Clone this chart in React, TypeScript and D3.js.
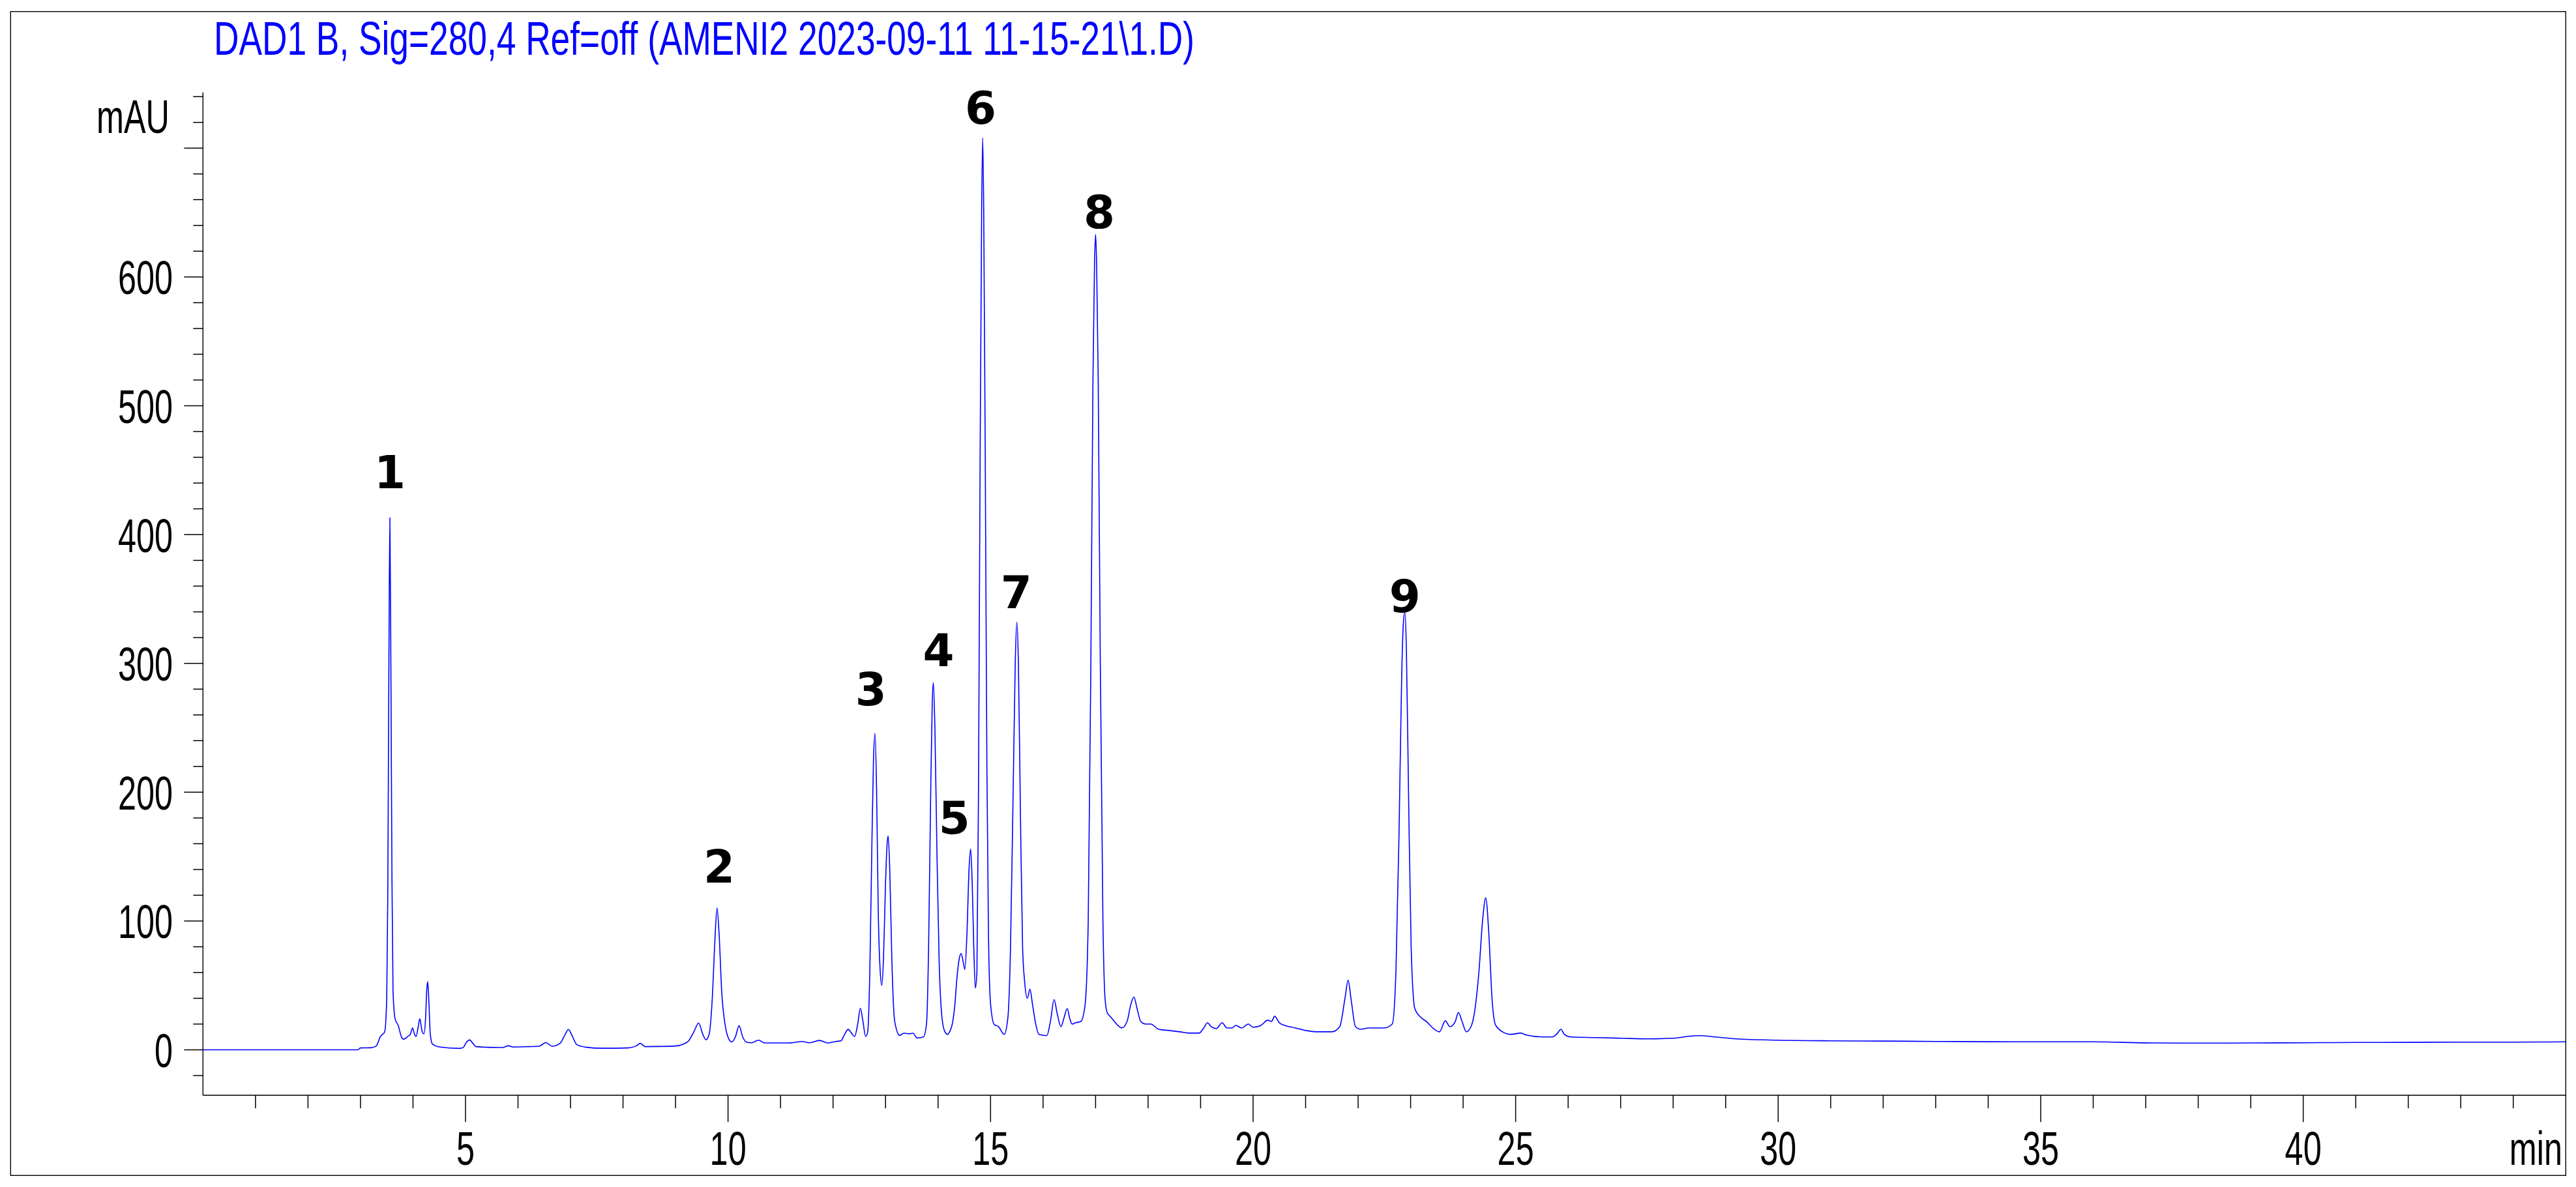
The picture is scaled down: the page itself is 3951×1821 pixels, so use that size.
import React from "react";
import * as d3 from "d3";

const chartTitle = "DAD1 B, Sig=280,4 Ref=off (AMENI2 2023-09-11 11-15-21\\1.D)";
const yUnit = "mAU";
const xUnit = "min";

const xDomain: [number, number] = [0, 45];
const yDomain: [number, number] = [-35.3, 743.3];
const yMajorTicks = [0, 100, 200, 300, 400, 500, 600, 700];
const yLabelTicks = [0, 100, 200, 300, 400, 500, 600];
const xLabelTicks = [5, 10, 15, 20, 25, 30, 35, 40];

// [retention time (min), absorbance (mAU)]
const trace: [number, number][] = [
  [0, 0], [2.95, 0], [3.0, 1.5], [3.2, 1.6], [3.3, 3], [3.38, 10.4], [3.46, 13.8],
  [3.5, 40], [3.52, 120], [3.54, 290], [3.56, 413], [3.58, 290], [3.6, 130], [3.62, 45],
  [3.66, 24], [3.72, 18.8], [3.78, 10], [3.82, 8.3], [3.86, 9], [3.9, 10.4], [3.95, 12],
  [3.99, 17], [4.03, 12], [4.06, 10.4], [4.1, 18], [4.13, 24.2], [4.17, 15], [4.21, 12.4],
  [4.24, 25], [4.26, 45], [4.28, 52.9], [4.3, 40], [4.33, 12], [4.37, 4.5], [4.49, 2.3],
  [4.89, 1.1], [4.96, 2], [5.02, 6], [5.08, 7.7], [5.14, 5], [5.2, 2.5], [5.4, 2],
  [5.7, 1.8], [5.82, 3.1], [5.9, 2.2], [6.2, 2.5], [6.4, 2.8], [6.53, 5.6], [6.65, 2.8],
  [6.8, 5], [6.9, 12], [6.96, 15.8], [7.03, 11], [7.12, 4], [7.3, 2], [7.6, 1.2],
  [8.1, 1.5], [8.25, 3], [8.33, 5], [8.42, 2.5], [8.7, 2.6], [9.0, 3], [9.15, 4.5],
  [9.25, 7], [9.35, 14], [9.44, 20.8], [9.52, 12], [9.58, 7.8], [9.64, 12], [9.7, 40],
  [9.75, 85], [9.79, 110], [9.83, 90], [9.88, 45], [9.95, 18], [10.02, 8], [10.07, 6.1],
  [10.14, 10], [10.21, 18.7], [10.28, 10], [10.35, 6], [10.45, 5.5], [10.58, 7.5],
  [10.7, 5.3], [11.0, 5.3], [11.2, 5.4], [11.41, 6.5], [11.55, 5.5], [11.74, 7.3],
  [11.9, 5.3], [12.05, 6.5], [12.15, 7], [12.22, 12], [12.29, 15.9], [12.35, 13],
  [12.41, 10.4], [12.47, 20], [12.52, 32.3], [12.57, 22], [12.62, 10.4], [12.66, 14],
  [12.7, 60], [12.74, 160], [12.77, 225], [12.8, 245.7], [12.83, 200], [12.86, 110],
  [12.9, 60], [12.93, 50], [12.96, 70], [13.0, 130], [13.03, 160], [13.05, 166],
  [13.08, 140], [13.12, 70], [13.16, 28], [13.19, 18.8], [13.27, 11.2], [13.35, 12.9],
  [13.45, 12.5], [13.52, 12.9], [13.6, 9.2], [13.72, 10], [13.78, 20], [13.82, 80],
  [13.86, 200], [13.89, 270], [13.91, 285], [13.94, 250], [13.98, 150], [14.02, 70],
  [14.06, 32], [14.12, 15], [14.18, 12], [14.22, 14], [14.28, 22], [14.32, 35],
  [14.36, 55.9], [14.41, 72], [14.44, 74.8], [14.48, 68], [14.51, 62.4], [14.55, 90],
  [14.59, 140], [14.62, 156], [14.65, 130], [14.68, 80], [14.71, 48], [14.74, 60],
  [14.77, 200], [14.8, 450], [14.83, 650], [14.85, 708], [14.87, 650], [14.9, 450],
  [14.93, 220], [14.96, 90], [15.0, 35.7], [15.07, 19.6], [15.15, 18], [15.26, 12],
  [15.33, 25], [15.38, 80], [15.43, 200], [15.47, 300], [15.5, 332], [15.53, 300],
  [15.57, 180], [15.61, 80], [15.65, 52.5], [15.7, 40], [15.75, 47], [15.8, 35],
  [15.86, 20], [15.92, 12], [16.07, 11], [16.14, 22], [16.21, 39], [16.27, 28],
  [16.34, 18], [16.4, 25], [16.46, 32], [16.51, 24], [16.55, 20], [16.62, 21],
  [16.72, 22], [16.8, 35], [16.86, 100], [16.91, 300], [16.95, 520], [16.98, 610],
  [17.0, 633], [17.02, 610], [17.05, 520], [17.09, 300], [17.14, 100], [17.18, 40],
  [17.22, 29], [17.3, 25], [17.4, 20], [17.5, 17], [17.6, 22], [17.67, 35], [17.73, 41],
  [17.79, 32], [17.86, 22], [17.95, 20], [18.05, 20], [18.2, 16], [18.4, 15], [18.6, 14],
  [18.8, 13], [18.97, 13], [19.06, 17], [19.13, 21], [19.2, 18], [19.3, 16.5],
  [19.41, 21], [19.5, 17], [19.6, 17], [19.67, 19], [19.78, 17], [19.91, 20], [20.0, 17.5],
  [20.15, 19], [20.28, 23], [20.35, 22], [20.41, 26], [20.5, 21], [20.6, 19], [20.8, 17],
  [21.0, 15], [21.2, 14], [21.5, 14], [21.65, 18], [21.75, 40], [21.81, 54], [21.87, 38],
  [21.95, 18], [22.05, 16], [22.2, 17], [22.35, 17], [22.5, 17], [22.65, 20], [22.72, 60],
  [22.78, 170], [22.83, 290], [22.86, 330], [22.89, 340], [22.92, 310], [22.96, 200],
  [23.01, 80], [23.08, 32], [23.2, 25], [23.3, 22], [23.45, 16], [23.55, 14], [23.66, 22.5],
  [23.75, 18], [23.85, 22], [23.91, 29], [23.98, 22], [24.06, 14], [24.15, 18], [24.22, 30],
  [24.3, 60], [24.37, 100], [24.43, 118], [24.49, 90], [24.55, 40], [24.62, 19],
  [24.75, 14], [24.9, 12], [25.1, 13], [25.2, 11.5], [25.5, 10], [25.7, 10], [25.8, 13],
  [25.86, 16], [25.93, 12], [26.05, 10], [26.5, 9.5], [27.0, 9], [27.5, 8.5], [28.0, 9],
  [28.3, 10.5], [28.5, 11], [28.8, 10], [29.2, 8.5], [30, 7.5], [31, 7], [32, 6.8],
  [33, 6.5], [34, 6.3], [35, 6.2], [36, 6.2], [37, 5.4], [38, 5.2], [39, 5.3], [40, 5.5],
  [41, 5.7], [42, 5.8], [43, 6], [44, 6], [45, 6.2],
];

const peakNumbers = ["1", "2", "3", "4", "5", "6", "7", "8", "9"];
const peakLabelTimes = [3.56, 9.83, 12.72, 14.01, 14.31, 14.81, 15.49, 17.07, 22.89];
const peakLabelLevels = [436, 130, 267.6, 298, 168, 719, 343, 638, 340];

const W = 3951;
const H = 1821;
const frame = { left: 16.3, top: 17.7, right: 3935.3, bottom: 1803.3 };
const plot = { left: 311.3, right: 3935.3, top: 141.7, bottom: 1680.3 };

const axisFont = "'Liberation Sans', Arial, sans-serif";
const labelFont = "'DejaVu Sans', Verdana, sans-serif";

export default function App() {
  const x = d3.scaleLinear().domain(xDomain).range([plot.left, plot.right]);
  const y = d3.scaleLinear().domain(yDomain).range([plot.bottom, plot.top]);

  const line = d3
    .line<[number, number]>()
    .x((d) => x(d[0]))
    .y((d) => y(d[1]))
    .curve(d3.curveMonotoneX);

  const yMinor = d3.range(-20, 741, 20).filter((v) => v % 100 !== 0);
  const xMinor = d3.range(1, 45, 1).filter((v) => v % 5 !== 0);
  const xMajor = d3.range(5, 45, 5);

  const sx = 0.7;

  return (
    <svg
      width={W}
      height={H}
      style={{ position: "absolute", left: 0, top: 0, display: "block", background: "#fff" }}
    >
      <rect x={0} y={0} width={W} height={H} fill="#fff" />
      <rect
        x={frame.left}
        y={frame.top}
        width={frame.right - frame.left}
        height={frame.bottom - frame.top}
        fill="none"
        stroke="#000"
        strokeWidth={1.4}
      />
      <text
        x={328}
        y={84}
        fontFamily={axisFont}
        fontSize={72}
        fill="#0000FF"
        textLength={1504}
        lengthAdjust="spacingAndGlyphs"
      >
        {chartTitle}
      </text>

      {/* y axis */}
      <line x1={plot.left} x2={plot.left} y1={plot.top} y2={plot.bottom} stroke="#000" strokeWidth={1.4} />
      {yMajorTicks.map((v) => (
        <line key={"ym" + v} x1={plot.left - 29} x2={plot.left} y1={y(v)} y2={y(v)} stroke="#000" strokeWidth={1.5} />
      ))}
      {yMinor.map((v) => (
        <line key={"yn" + v} x1={plot.left - 15} x2={plot.left} y1={y(v)} y2={y(v)} stroke="#000" strokeWidth={1.5} />
      ))}
      {yLabelTicks.map((v) => (
        <text
          key={"yl" + v}
          transform={`translate(265,${y(v) + 26.5}) scale(${sx},1)`}
          textAnchor="end"
          fontFamily={axisFont}
          fontSize={72}
          fill="#000"
        >
          {v}
        </text>
      ))}
      <text
        transform={`translate(260,204) scale(${sx},1)`}
        textAnchor="end"
        fontFamily={axisFont}
        fontSize={72}
        fill="#000"
      >
        {yUnit}
      </text>

      {/* x axis */}
      <line x1={plot.left} x2={plot.right} y1={plot.bottom} y2={plot.bottom} stroke="#000" strokeWidth={1.4} />
      {xMinor.map((v) => (
        <line key={"xn" + v} x1={x(v)} x2={x(v)} y1={plot.bottom} y2={plot.bottom + 20} stroke="#000" strokeWidth={1.5} />
      ))}
      {xMajor.map((v) => (
        <line key={"xm" + v} x1={x(v)} x2={x(v)} y1={plot.bottom} y2={plot.bottom + 41} stroke="#000" strokeWidth={1.5} />
      ))}
      {xLabelTicks.map((v) => (
        <text
          key={"xl" + v}
          transform={`translate(${x(v)},1786.7) scale(${sx},1)`}
          textAnchor="middle"
          fontFamily={axisFont}
          fontSize={72}
          fill="#000"
        >
          {v}
        </text>
      ))}
      <text
        transform={`translate(3930,1786.7) scale(${sx},1)`}
        textAnchor="end"
        fontFamily={axisFont}
        fontSize={72}
        fill="#000"
      >
        {xUnit}
      </text>

      {/* trace */}
      <path d={line(trace) || ""} fill="none" stroke="#0000FF" strokeWidth={1.6} strokeLinejoin="round" />

      {/* peak labels */}
      {peakNumbers.map((n, i) => (
        <text
          key={"pk" + n}
          x={x(peakLabelTimes[i])}
          y={y(peakLabelLevels[i])}
          textAnchor="middle"
          fontFamily={labelFont}
          fontWeight="bold"
          fontSize={69}
          fill="#000"
        >
          {n}
        </text>
      ))}
    </svg>
  );
}
